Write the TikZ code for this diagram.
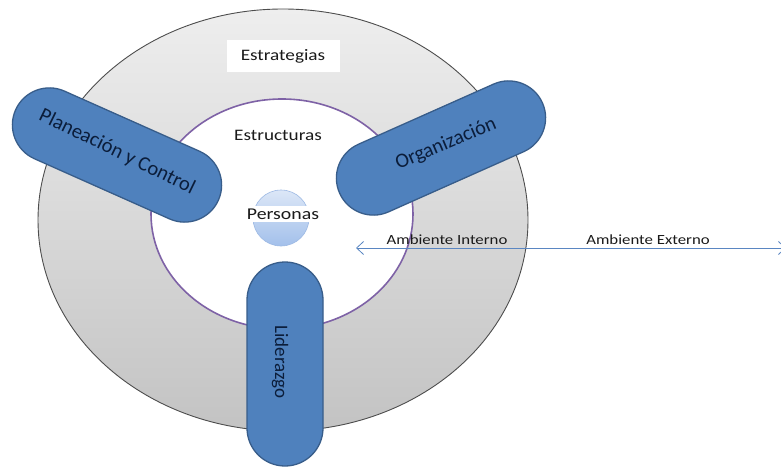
\documentclass[tikz,border=0pt]{standalone}
\usepackage{fontspec}
\setmainfont{Carlito}
\usetikzlibrary{shapes.misc,arrows.meta}

\definecolor{ringtop}{HTML}{EEEEEE}
\definecolor{ringbot}{HTML}{C3C3C3}
\definecolor{ringline}{HTML}{4D4D4D}
\definecolor{innerline}{HTML}{7E62A6}
\definecolor{pillfill}{HTML}{4F81BD}
\definecolor{pillline}{HTML}{385D8A}
\definecolor{pilltext}{HTML}{0B1D3A}
\definecolor{arrowblue}{HTML}{5A86C2}
\definecolor{sphtop}{HTML}{DCE7F7}
\definecolor{sphbot}{HTML}{A3C0EB}
\definecolor{sphline}{HTML}{9DB9E4}
\definecolor{txt}{HTML}{1A1A1A}

\begin{document}
\begin{tikzpicture}[x=1pt,y=-1pt,
  pill/.style={rounded rectangle, rounded rectangle arc length=180,
    draw=pillline, line width=1.3pt, fill=pillfill,
    minimum height=74pt, inner sep=0pt},
  pilltxt/.style={text=pilltext, inner sep=0pt,
    font=\fontsize{20.5}{22}\selectfont},
  lbl/.style={text=txt, inner sep=0pt},
  barbtip/.tip={Straight Barb[length=7pt,width=13pt]}]

\useasboundingbox (0,0) rectangle (781,468);
\clip (0,0) rectangle (781,468);

% outer ring: strategies
\path[top color=ringtop, bottom color=ringbot, draw=ringline, line width=0.9pt]
  (283,220) ellipse [x radius=245, y radius=211];

% inner ring: structures
\path[fill=white, draw=innerline, line width=1.6pt]
  (282,214) ellipse [x radius=131, y radius=115];

% people sphere
\node[circle, minimum size=56pt, inner sep=0pt, draw=sphline, line width=0.6pt,
  top color=sphtop, middle color=white, bottom color=sphbot] (sph) at (281,218) {};

% ring labels
\node[lbl, fill=white, minimum width=113pt, minimum height=32pt,
  font=\fontsize{16}{18}\selectfont] (estr) at (283,56) {\scalebox{1.2}[1]{Estrategias}};
\node[lbl, font=\fontsize{16}{18}\selectfont] (estc) at (278,135) {\scalebox{1.2}[1]{Estructuras}};
\node[lbl, fill=white, inner xsep=2pt, inner ysep=3pt,
  font=\fontsize{16.5}{18}\selectfont] (pers) at (283,214) {\scalebox{1.2}[1]{Personas}};

% internal / external environment
\coordinate (arrL) at (356,248);
\coordinate (arrR) at (786,248);
\draw[arrowblue, line width=0.8pt, barbtip-barbtip] (arrL) -- (arrR);
\node[lbl, font=\fontsize{14}{16}\selectfont] (ambi) at (447,240) {\scalebox{1.2}[1]{Ambiente Interno}};
\node[lbl, font=\fontsize{14}{16}\selectfont] (ambe) at (648,240) {\scalebox{1.2}[1]{Ambiente Externo}};

% the three functions
\node[pill, minimum width=222pt, rotate=-24] (plan) at (117,155) {};
\node[pill, minimum width=222pt, rotate=24] (org) at (441,148) {};
\node[pill, minimum height=76pt, minimum width=204pt, rotate=-90] (lid) at (285,364) {};

\node[pilltxt, rotate=-26] (planT) at ([shift={(0,-3)}]plan.center) {Planeación y Control};
\node[pilltxt, rotate=23] (orgT) at ([shift={(5,-4)}]org.center) {Organización};
\node[pilltxt, font=\fontsize{19}{21}\selectfont, rotate=-90] (lidT) at ([shift={(-5,-2)}]lid.center) {Liderazgo};

\end{tikzpicture}
\end{document}
